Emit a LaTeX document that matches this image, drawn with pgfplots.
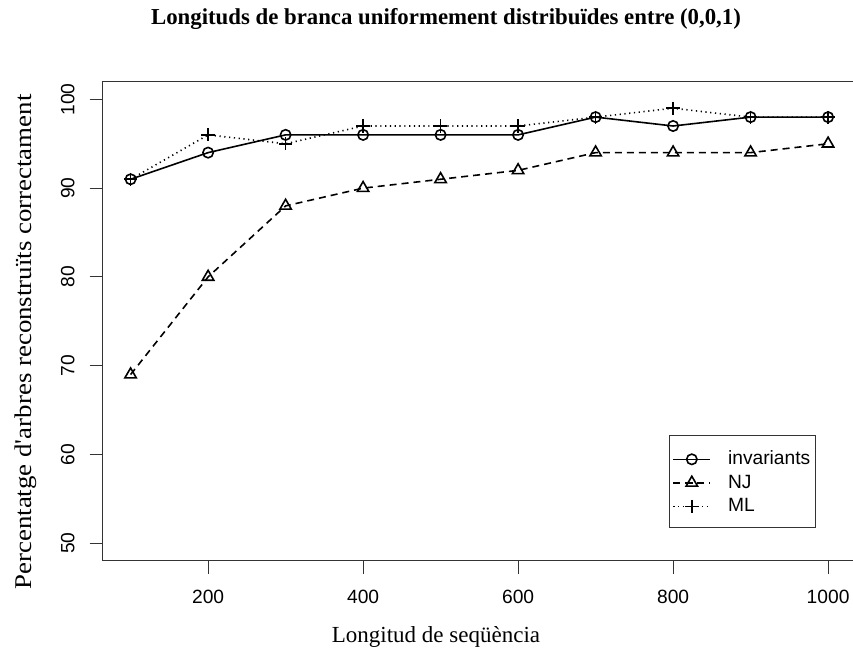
\documentclass[border=0pt]{standalone}
\usepackage{fontspec}
\setmainfont{Liberation Serif}
\newfontfamily\rsans{Liberation Sans}
\usepackage{graphicx}
\usepackage{pgfplots}
\pgfplotsset{compat=1.18}
\begin{document}
\begin{tikzpicture}
\begin{axis}[name=ax, scale only axis, width=376.65pt, height=239.7pt,
  xmin=64, xmax=1036, ymin=48, ymax=102,
  xtick={200,400,600,800,1000}, xticklabels={200,400,600,800,1000},
  ytick={50,60,70,80,90,100}, yticklabels={50,60,70,80,90,100},
  tick align=outside, tick pos=left,
  major tick length=6.5pt,
  axis line style={black!80, line width=0.5pt},
  tick style={black!80, line width=0.5pt},
  tick label style={font=\rsans\fontsize{9.6}{11}\selectfont, inner sep=0pt},
  xticklabel style={anchor=north}, xticklabel shift=8pt,
  yticklabel style={rotate=90, anchor=south}, yticklabel shift=7.35pt,
  legend style={at={(0.7518,0.2628)}, anchor=north west, draw=black!80, line width=0.5pt,
    inner xsep=1.5pt, inner ysep=6.5pt, row sep=2.25pt, column sep=7.3pt,
    font=\rsans\fontsize{9.6}{11}\selectfont,
    nodes={inner ysep=0pt, inner xsep=1.2pt, text height=8pt, text depth=1.5pt, anchor=base west}},
  legend cell align=left,
  legend image code/.code={\draw[mark repeat=2,mark phase=2,#1] plot coordinates {(0pt,2.6pt) (9.25pt,2.6pt) (18.5pt,2.6pt)};},
]
\addplot[black, line width=0.8pt, mark=o, mark size=2.6pt, mark options={solid}] coordinates {
(100,91) (200,94) (300,96) (400,96) (500,96) (600,96) (700,98) (800,97) (900,98) (1000,98)};
\addplot[black, line width=0.8pt, dash pattern=on 3.5pt off 2.5pt, mark=triangle, mark size=3.3pt, mark options={solid}] coordinates {
(100,69) (200,80) (300,88) (400,90) (500,91) (600,92) (700,94) (800,94) (900,94) (1000,95)};
\addplot[black, line width=0.8pt, dash pattern=on 0.6pt off 1.8pt, mark=+, mark size=3.3pt, mark options={solid}] coordinates {
(100,91) (200,96) (300,95) (400,97) (500,97) (600,97) (700,98) (800,99) (900,98) (1000,98)};
\legend{invariants, NJ, ML}
\end{axis}
\node[font=\bfseries\fontsize{11.4}{13}\selectfont, anchor=base] at ([shift={(171.65pt,268pt)}]ax.south west) {Longituds de branca uniformement distribuïdes entre (0,0,1)};
\node[font=\fontsize{11.5}{13}\selectfont, anchor=base] at ([shift={(166.65pt,-41pt)}]ax.south west) {Longitud de seqüència};
\node[font=\fontsize{12}{14}\selectfont, anchor=base, rotate=90] at ([shift={(-35.5pt,109.5pt)}]ax.south west) {\scalebox{1.12}[1]{Percentatge d\textquotesingle arbres reconstruïts correctament}};
\pgfresetboundingbox
\path ([shift={(-51.35pt,-43.5pt)}]ax.south west) rectangle ([shift={(375.15pt,280.5pt)}]ax.south west);
\end{tikzpicture}
\end{document}
